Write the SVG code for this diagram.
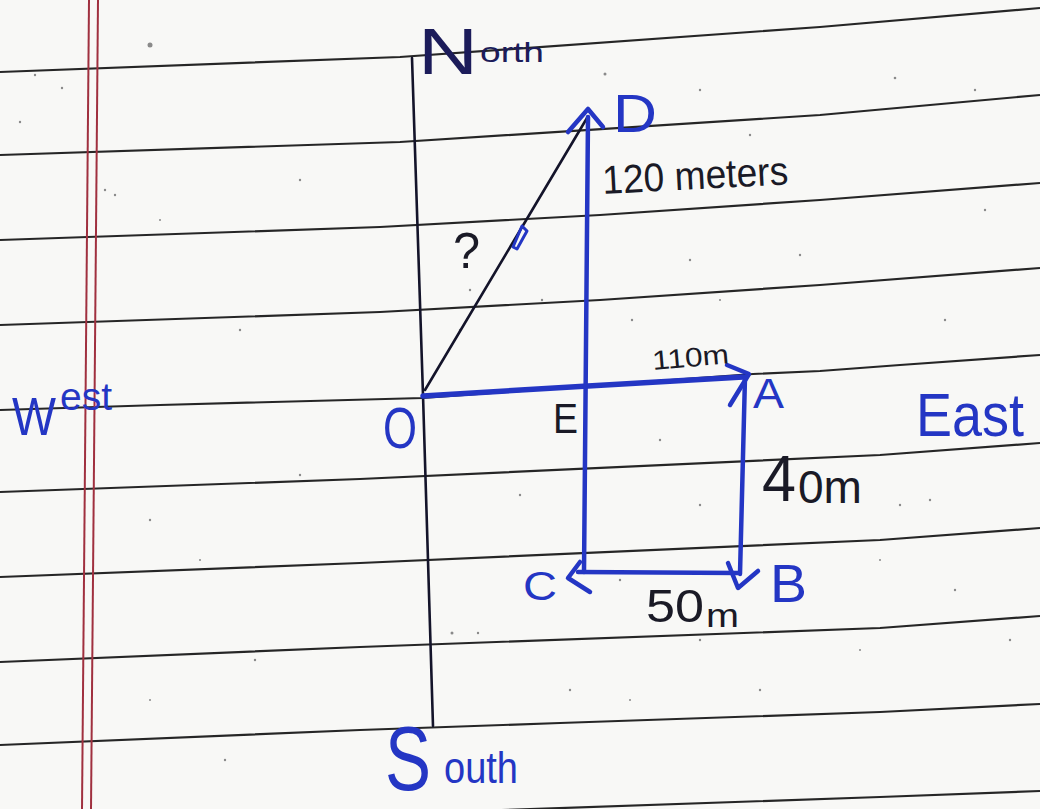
<svg xmlns="http://www.w3.org/2000/svg" width="1040" height="809" viewBox="0 0 1040 809">
<style>
.rule{fill:none;stroke:#262626;stroke-width:2.2;stroke-linejoin:round}
.margin{stroke:#a0303f;stroke-width:2}
.ink{fill:none;stroke:#14142a;stroke-width:2.6;stroke-linecap:round;stroke-linejoin:round}
.pen{fill:none;stroke:#2436c4;stroke-width:4.5;stroke-linecap:round;stroke-linejoin:round}
.bl{fill:#2436c4;font-family:"Liberation Sans",Arial,sans-serif}
.bk{fill:#1a1a26;font-family:"Liberation Sans",Arial,sans-serif}
.dot{fill:#8a8a8a}
</style>
<rect width="1040" height="809" fill="#f8f8f6"/>
<g id="paper">
<path class="rule" d="M0,72 L400,57 L820,27 L1040,8"/>
<path class="rule" d="M0,155 L400,142 L820,115 L1040,95"/>
<path class="rule" d="M0,240 L380,227 L600,215 L820,200 L1040,183"/>
<path class="rule" d="M0,325 L380,312 L600,300 L820,285 L1040,268"/>
<path class="rule" d="M0,410 L160,405 L423,398 L753,374 L820,371 L900,365 L1040,355"/>
<path class="rule" d="M0,492 L360,479 L880,455 L1040,443"/>
<path class="rule" d="M0,577 L360,563 L880,540 L1040,528"/>
<path class="rule" d="M0,662 L360,647 L880,628 L1040,616"/>
<path class="rule" d="M0,745 L360,730 L560,723 L880,712 L1040,704"/>
<path class="rule" d="M0,830 L360,815 L880,797 L1040,791"/>
<line class="margin" x1="89" y1="0" x2="82" y2="809"/>
<line class="margin" x1="98" y1="0" x2="91" y2="809"/>
<g id="speckles">
<circle class="dot" cx="150" cy="45" r="2.5"/><circle class="dot" cx="35" cy="75" r="1.2"/><circle class="dot" cx="62" cy="88" r="1.2"/>
<circle class="dot" cx="20" cy="122" r="1.2"/><circle class="dot" cx="105" cy="190" r="1.2"/><circle class="dot" cx="115" cy="195" r="1.2"/>
<circle class="dot" cx="160" cy="220" r="1"/><circle class="dot" cx="300" cy="180" r="1.2"/><circle class="dot" cx="240" cy="330" r="1.2"/>
<circle class="dot" cx="690" cy="260" r="1.2"/><circle class="dot" cx="720" cy="300" r="1"/><circle class="dot" cx="895" cy="78" r="1.3"/>
<circle class="dot" cx="975" cy="90" r="1.2"/><circle class="dot" cx="985" cy="210" r="1.2"/><circle class="dot" cx="945" cy="320" r="1.2"/>
<circle class="dot" cx="900" cy="505" r="1.2"/><circle class="dot" cx="930" cy="500" r="1.2"/><circle class="dot" cx="880" cy="560" r="1"/>
<circle class="dot" cx="955" cy="590" r="1.2"/><circle class="dot" cx="1010" cy="640" r="1.2"/><circle class="dot" cx="860" cy="650" r="1"/>
<circle class="dot" cx="620" cy="580" r="1.2"/><circle class="dot" cx="452" cy="633" r="1.5"/><circle class="dot" cx="478" cy="633" r="1.2"/>
<circle class="dot" cx="570" cy="690" r="1.2"/><circle class="dot" cx="630" cy="700" r="1"/><circle class="dot" cx="760" cy="690" r="1.2"/>
<circle class="dot" cx="300" cy="475" r="1.2"/><circle class="dot" cx="200" cy="560" r="1"/><circle class="dot" cx="150" cy="520" r="1.2"/>
<circle class="dot" cx="255" cy="660" r="1.2"/><circle class="dot" cx="150" cy="700" r="1"/><circle class="dot" cx="225" cy="760" r="1.2"/>
<circle class="dot" cx="460" cy="330" r="1.2"/><circle class="dot" cx="542" cy="300" r="1.2"/><circle class="dot" cx="470" cy="290" r="1.2"/>
<circle class="dot" cx="632" cy="320" r="1.2"/><circle class="dot" cx="700" cy="505" r="1.2"/><circle class="dot" cx="520" cy="495" r="1.2"/>
<circle class="dot" cx="605" cy="74" r="1.5"/><circle class="dot" cx="700" cy="90" r="1.2"/><circle class="dot" cx="750" cy="135" r="1.2"/>
<circle class="dot" cx="800" cy="255" r="1.2"/><circle class="dot" cx="660" cy="440" r="1.2"/><circle class="dot" cx="700" cy="640" r="1.2"/>
</g>
</g>
<g id="connectors">
<path id="ns-axis" class="ink" d="M412,58 L423,395 L433,726"/>
<path id="resultant" class="ink" d="M425,390 L587,118"/>
<path id="angle-mark" fill="none" stroke="#2436c4" stroke-width="3" stroke-linejoin="round" d="M513,247 L522,226 L527,231 L517,249 Z"/>
<path id="O-A" class="pen" style="stroke-width:5.5" d="M423,396 L588,386 L743,377"/>
<polyline class="pen" points="727,365 749,374 730,405"/>
<path id="A-B" class="pen" d="M745,377 L740,574"/>
<polyline class="pen" points="728,563 738,588 758,571"/>
<path id="B-C" class="pen" d="M738,573 L578,572"/>
<polyline class="pen" points="580,562 568,578 590,592"/>
<path id="C-D" class="pen" d="M584,572 L588,117"/>
<polyline class="pen" points="568,132 588,109 603,127"/>
</g>
<g id="label-north"><text class="bk" style="fill:#1c1c5a"><tspan x="418" y="74" font-size="64" textLength="60" lengthAdjust="spacingAndGlyphs">N</tspan><tspan x="480" y="62" font-size="28" textLength="64" lengthAdjust="spacingAndGlyphs">orth</tspan></text></g>
<g id="label-south"><text class="bl"><tspan x="385" y="790" font-size="90" textLength="46" lengthAdjust="spacingAndGlyphs">S</tspan><tspan x="444" y="783" font-size="44" textLength="74" lengthAdjust="spacingAndGlyphs">outh</tspan></text></g>
<g id="label-west"><text class="bl"><tspan x="12" y="435" font-size="54" textLength="44" lengthAdjust="spacingAndGlyphs">W</tspan><tspan x="60" y="410" font-size="38" textLength="52" lengthAdjust="spacingAndGlyphs">est</tspan></text></g>
<g id="label-east"><text class="bl" x="916" y="436" font-size="62" textLength="108" lengthAdjust="spacingAndGlyphs">East</text></g>
<g id="node-O"><text class="bl" x="383" y="448" font-size="58" textLength="34" lengthAdjust="spacingAndGlyphs">O</text></g>
<g id="node-E"><text class="bk" x="553" y="433" font-size="42" textLength="25" lengthAdjust="spacingAndGlyphs">E</text></g>
<g id="node-A"><text class="bl" x="753" y="408" font-size="42" textLength="31" lengthAdjust="spacingAndGlyphs">A</text></g>
<g id="node-B"><text class="bl" x="770" y="602" font-size="54" textLength="37" lengthAdjust="spacingAndGlyphs">B</text></g>
<g id="node-C"><text class="bl" x="523" y="600" font-size="40" textLength="34" lengthAdjust="spacingAndGlyphs">C</text></g>
<g id="node-D"><text class="bl" x="613" y="132" font-size="54" textLength="44" lengthAdjust="spacingAndGlyphs">D</text></g>
<g id="label-q"><text class="bk" x="453" y="268" font-size="50" textLength="27" lengthAdjust="spacingAndGlyphs">?</text></g>
<g id="label-120"><text class="bk" x="603" y="194" font-size="40" textLength="186" lengthAdjust="spacingAndGlyphs" transform="rotate(-3 603 194)">120 meters</text></g>
<g id="label-110"><text class="bk" x="653" y="370" font-size="27" textLength="77" lengthAdjust="spacingAndGlyphs" transform="rotate(-5 653 370)">110m</text></g>
<g id="label-40"><text class="bk"><tspan x="762" y="501" font-size="64" textLength="34" lengthAdjust="spacingAndGlyphs">4</tspan><tspan x="798" y="503" font-size="46" textLength="64" lengthAdjust="spacingAndGlyphs">0m</tspan></text></g>
<g id="label-50"><text class="bk"><tspan x="646" y="622" font-size="46" textLength="58" lengthAdjust="spacingAndGlyphs">50</tspan><tspan x="706" y="627" font-size="34" textLength="33" lengthAdjust="spacingAndGlyphs">m</tspan></text></g>
</svg>
